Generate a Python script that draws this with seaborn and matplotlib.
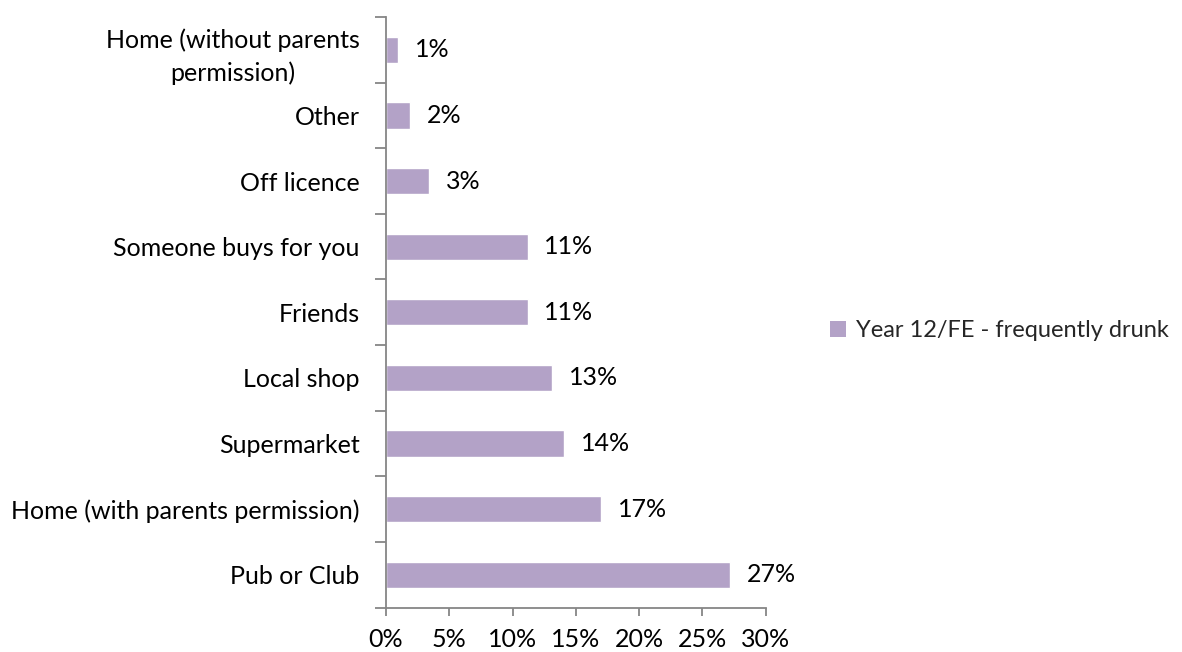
import matplotlib
matplotlib.use("Agg")
import matplotlib.pyplot as plt
import matplotlib.ticker as mticker
from matplotlib.patches import Patch
import numpy as np
import pandas as pd
import seaborn as sns

# Sources of alcohol, Year 12/FE pupils who frequently drink (percent)
sources = [
    "Home (without parents\npermission)",
    "Other",
    "Off licence",
    "Someone buys for you",
    "Friends",
    "Local shop",
    "Supermarket",
    "Home (with parents permission)",
    "Pub or Club",
]
values = [0.95, 1.9, 3.4, 11.2, 11.2, 13.1, 14.06, 17.0, 27.2]
series_name = "Year 12/FE - frequently drunk"
x_ticks = [0, 5, 10, 15, 20, 25, 30]

bar_color = "#B3A2C7"
axis_color = "#868686"
font_size = 18

sns.set_theme(style="white")
plt.rcParams["font.family"] = ["Lato", "DejaVu Sans"]

df = pd.DataFrame({"source": sources, "pct": values})

fig = plt.figure(figsize=(11.82, 6.52), dpi=100)
ax = fig.add_axes([0.3266, 0.068, 0.3212, 0.906])

sns.barplot(data=df, x="pct", y="source", orient="h", color=bar_color,
            width=0.4, saturation=1, ax=ax, order=sources)

ax.set_xlim(0, 30)
ax.set_ylim(len(sources) - 0.5, -0.5)
ax.set_xlabel("")
ax.set_ylabel("")

ax.xaxis.set_major_locator(mticker.FixedLocator(x_ticks))
ax.xaxis.set_major_formatter(mticker.FuncFormatter(lambda v, p: f"{int(v)}%"))
ax.yaxis.set_minor_locator(mticker.FixedLocator(np.arange(-0.5, len(sources), 1.0)))

for side in ("top", "right"):
    ax.spines[side].set_visible(False)
for side in ("left", "bottom"):
    ax.spines[side].set_color(axis_color)
    ax.spines[side].set_linewidth(1.3)

ax.tick_params(axis="x", which="major", direction="out", length=6, width=1.3,
               color=axis_color, labelsize=font_size, labelcolor="black", pad=9,
               bottom=True)
ax.tick_params(axis="y", which="major", length=0, labelsize=font_size,
               labelcolor="black", pad=19)
ax.tick_params(axis="y", which="minor", direction="out", length=8, width=1.3,
               color=axis_color, left=True)

for lbl in ax.get_yticklabels():
    lbl.set_multialignment("center")
    lbl.set_linespacing(1.5)

for i, v in enumerate(values):
    ax.annotate(f"{v:.0f}%", xy=(v, i), xytext=(12, 0), textcoords="offset points",
                ha="left", va="center", fontsize=font_size, color="black")

handles = [Patch(facecolor=bar_color, edgecolor="none", label=series_name)]
fig.legend(handles=handles, loc="center left", bbox_to_anchor=(0.702, 0.493),
           frameon=False, fontsize=17, handlelength=0.7, handleheight=0.7,
           handletextpad=0.4, borderpad=0, borderaxespad=0)

fig.savefig("out.png", dpi=100)
